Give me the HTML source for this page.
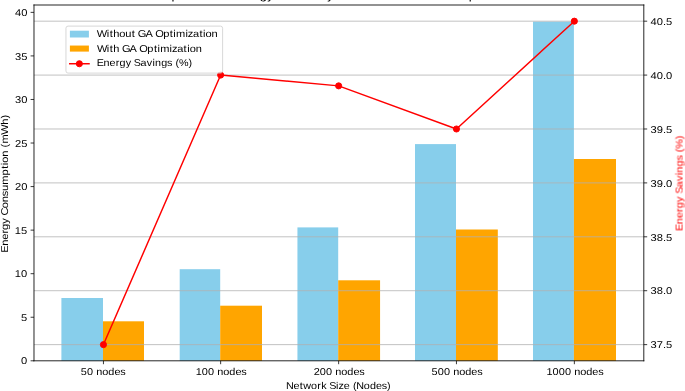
<!DOCTYPE html>
<html><head><meta charset="utf-8"><title>Energy Efficiency with and without GA Optimization</title><style>
html,body{margin:0;padding:0;background:#fff;width:685px;height:391px;overflow:hidden}
svg{display:block}
text{font-family:"Liberation Sans",sans-serif;fill:#000000;text-rendering:geometricPrecision}
</style></head><body>
<svg width="685" height="391" viewBox="0 0 685 391">
<defs><filter id="soft" x="0" y="0" width="1" height="1" color-interpolation-filters="sRGB"><feGaussianBlur stdDeviation="0.3"/></filter></defs>
<g filter="url(#soft)">
<rect width="685" height="391" fill="#fff"/>
<g transform="scale(0.9722222)">
<rect x="63.154" y="306.514" width="42.789" height="64.594" fill="#87ceeb"/>
<rect x="184.834" y="276.891" width="41.657" height="94.217" fill="#87ceeb"/>
<rect x="305.938" y="233.897" width="41.925" height="137.211" fill="#87ceeb"/>
<rect x="426.857" y="148.217" width="42.171" height="222.891" fill="#87ceeb"/>
<rect x="548.229" y="22.217" width="42.069" height="348.891" fill="#87ceeb"/>
<rect x="105.943" y="330.480" width="42.171" height="40.629" fill="#ffa500"/>
<rect x="226.491" y="314.434" width="42.994" height="56.674" fill="#ffa500"/>
<rect x="347.863" y="288.309" width="43.066" height="82.800" fill="#ffa500"/>
<rect x="469.029" y="236.057" width="42.994" height="135.051" fill="#ffa500"/>
<rect x="590.297" y="163.543" width="43.303" height="207.566" fill="#ffa500"/>
<line x1="106.406" x2="106.406" y1="371.109" y2="374.609" stroke="#000" stroke-width="0.8"/>
<line x1="226.954" x2="226.954" y1="371.109" y2="374.609" stroke="#000" stroke-width="0.8"/>
<line x1="348.326" x2="348.326" y1="371.109" y2="374.609" stroke="#000" stroke-width="0.8"/>
<line x1="469.491" x2="469.491" y1="371.109" y2="374.609" stroke="#000" stroke-width="0.8"/>
<line x1="590.760" x2="590.760" y1="371.109" y2="374.609" stroke="#000" stroke-width="0.8"/>
<line x1="31.471" x2="34.971" y1="371.109" y2="371.109" stroke="#000" stroke-width="0.8"/>
<line x1="31.471" x2="34.971" y1="326.309" y2="326.309" stroke="#000" stroke-width="0.8"/>
<line x1="31.471" x2="34.971" y1="281.510" y2="281.510" stroke="#000" stroke-width="0.8"/>
<line x1="31.471" x2="34.971" y1="236.711" y2="236.711" stroke="#000" stroke-width="0.8"/>
<line x1="31.471" x2="34.971" y1="191.911" y2="191.911" stroke="#000" stroke-width="0.8"/>
<line x1="31.471" x2="34.971" y1="147.112" y2="147.112" stroke="#000" stroke-width="0.8"/>
<line x1="31.471" x2="34.971" y1="102.313" y2="102.313" stroke="#000" stroke-width="0.8"/>
<line x1="31.471" x2="34.971" y1="57.513" y2="57.513" stroke="#000" stroke-width="0.8"/>
<line x1="31.471" x2="34.971" y1="12.714" y2="12.714" stroke="#000" stroke-width="0.8"/>
<text transform="translate(105.943,385.707) scale(1.0998,1)" x="-20.765 -14.986 -9.237 -6.330 -0.673 4.989 10.666 16.112" y="0" font-size="10.200">50 nodes</text>
<text transform="translate(227.263,385.707) scale(1.1026,1)" x="-23.616 -17.852 -12.088 -6.350 -3.455 2.188 7.835 13.498 18.930" y="0" font-size="10.200">100 nodes</text>
<text transform="translate(348.583,385.707) scale(1.1026,1)" x="-23.575 -17.811 -12.047 -6.310 -3.414 2.229 7.876 13.538 18.971" y="0" font-size="10.200">200 nodes</text>
<text transform="translate(469.903,385.707) scale(1.1026,1)" x="-23.575 -17.811 -12.047 -6.310 -3.414 2.229 7.876 13.538 18.971" y="0" font-size="10.200">500 nodes</text>
<text transform="translate(591.222,385.707) scale(1.1049,1)" x="-26.425 -20.672 -14.920 -9.167 -3.439 -0.552 5.079 10.715 16.366 21.788" y="0" font-size="10.200">1000 nodes</text>
<text transform="translate(348.171,400.414) scale(1.0883,1)" x="-49.732 -42.631 -36.592 -33.299 -25.893 -20.063 -16.368 -11.121 -8.728 -2.278 -0.006 4.941 10.639 13.608 16.853 23.938 29.659 35.396 40.897 45.927" y="0" font-size="10.200">Network Size (Nodes)</text>
<text transform="translate(27.971,374.908) scale(1.1237,1)" x="-5.606" y="0" font-size="10.200">0</text>
<text transform="translate(27.971,330.108) scale(1.1237,1)" x="-5.606" y="0" font-size="10.200">5</text>
<text transform="translate(27.971,285.309) scale(1.1237,1)" x="-11.293 -5.637" y="0" font-size="10.200">10</text>
<text transform="translate(27.971,240.510) scale(1.1237,1)" x="-11.293 -5.637" y="0" font-size="10.200">15</text>
<text transform="translate(27.971,195.710) scale(1.1237,1)" x="-11.213 -5.557" y="0" font-size="10.200">20</text>
<text transform="translate(27.971,150.911) scale(1.1237,1)" x="-11.213 -5.557" y="0" font-size="10.200">25</text>
<text transform="translate(27.971,106.112) scale(1.1237,1)" x="-11.213 -5.557" y="0" font-size="10.200">30</text>
<text transform="translate(27.971,61.312) scale(1.1237,1)" x="-11.213 -5.557" y="0" font-size="10.200">35</text>
<text transform="translate(27.971,16.513) scale(1.1237,1)" x="-11.213 -5.557" y="0" font-size="10.200">40</text>
<text transform="translate(8.241,188.640) rotate(-90) scale(1.1139,1)" x="-63.941 -57.702 -52.102 -46.365 -42.971 -37.186 -31.977 -29.680 -22.962 -17.376 -11.913 -7.020 -1.218 7.404 13.424 16.711 19.002 24.587 30.270 33.164 36.739 44.977 54.224 59.950" y="0" font-size="10.200">Energy Consumption (mWh)</text>
<text transform="translate(348.789,-0.857) scale(1.1108,1)" x="-180.486 -172.411 -165.561 -155.198 -148.476 -141.593 -137.203 -134.599 -128.839 -122.128 -115.297 -111.991 -105.095 -101.485 -98.750 -91.252 -84.523 -77.627 -73.520 -66.567 -60.306 -57.571 -49.888 -46.094 -42.360 -39.601 -33.441 -30.674 -23.944 -17.223 -11.072 -4.811 -1.411 7.552 10.821 14.645 21.476 24.787 31.504 38.339 45.175 48.575 57.538 60.807 64.631 71.342 78.054 85.284 89.110 91.937 100.477 108.257 111.150 120.168 127.404 131.354 134.361 144.845 147.470 153.256 160.374 164.324 167.073 173.785" y="0" font-size="12.240">Comparison of Energy Efficiency with and without GA Optimization</text>
<line x1="34.971" x2="662.194" y1="354.474" y2="354.474" stroke="#b0b0b0" stroke-width="0.8" stroke-opacity="1.0"/>
<line x1="34.971" x2="662.194" y1="299.024" y2="299.024" stroke="#b0b0b0" stroke-width="0.8" stroke-opacity="1.0"/>
<line x1="34.971" x2="662.194" y1="243.575" y2="243.575" stroke="#b0b0b0" stroke-width="0.8" stroke-opacity="1.0"/>
<line x1="34.971" x2="662.194" y1="188.126" y2="188.126" stroke="#b0b0b0" stroke-width="0.8" stroke-opacity="1.0"/>
<line x1="34.971" x2="662.194" y1="132.676" y2="132.676" stroke="#b0b0b0" stroke-width="0.8" stroke-opacity="1.0"/>
<line x1="34.971" x2="662.194" y1="77.227" y2="77.227" stroke="#b0b0b0" stroke-width="0.8" stroke-opacity="1.0"/>
<line x1="34.971" x2="662.194" y1="21.778" y2="21.778" stroke="#b0b0b0" stroke-width="0.8" stroke-opacity="1.0"/>
<line x1="662.194" x2="665.694" y1="354.474" y2="354.474" stroke="#000" stroke-width="0.8"/>
<line x1="662.194" x2="665.694" y1="299.024" y2="299.024" stroke="#000" stroke-width="0.8"/>
<line x1="662.194" x2="665.694" y1="243.575" y2="243.575" stroke="#000" stroke-width="0.8"/>
<line x1="662.194" x2="665.694" y1="188.126" y2="188.126" stroke="#000" stroke-width="0.8"/>
<line x1="662.194" x2="665.694" y1="132.676" y2="132.676" stroke="#000" stroke-width="0.8"/>
<line x1="662.194" x2="665.694" y1="77.227" y2="77.227" stroke="#000" stroke-width="0.8"/>
<line x1="662.194" x2="665.694" y1="21.778" y2="21.778" stroke="#000" stroke-width="0.8"/>
<text transform="translate(669.194,358.273) scale(1.1238,1)" x="-0.000 5.656 11.312 14.138" y="0" font-size="10.200">37.5</text>
<text transform="translate(669.194,302.824) scale(1.1238,1)" x="-0.000 5.656 11.312 14.138" y="0" font-size="10.200">38.0</text>
<text transform="translate(669.194,247.374) scale(1.1238,1)" x="-0.000 5.656 11.312 14.138" y="0" font-size="10.200">38.5</text>
<text transform="translate(669.194,191.925) scale(1.1238,1)" x="-0.000 5.656 11.312 14.138" y="0" font-size="10.200">39.0</text>
<text transform="translate(669.194,136.476) scale(1.1238,1)" x="-0.000 5.656 11.312 14.138" y="0" font-size="10.200">39.5</text>
<text transform="translate(669.194,81.026) scale(1.1238,1)" x="-0.000 5.656 11.312 14.138" y="0" font-size="10.200">40.0</text>
<text transform="translate(669.194,25.577) scale(1.1238,1)" x="-0.000 5.656 11.312 14.138" y="0" font-size="10.200">40.5</text>
<text transform="translate(701.824,188.126) rotate(-90) scale(1.0864,1)" x="-45.428 -39.046 -33.303 -27.449 -23.941 -18.016 -12.704 -10.303 -4.003 1.821 7.232 9.725 15.557 21.157 26.143 29.118 32.452 41.443" y="0" font-size="10.200" style="fill:#ff0000">Energy Savings (%)</text>
<polyline points="106.406,354.474 226.954,77.227 348.326,88.317 469.491,132.676 590.760,21.778" fill="none" stroke="#ff0000" stroke-width="1.5" stroke-linejoin="round" stroke-linecap="square"/>
<circle cx="106.406" cy="354.474" r="3.15" fill="#ff0000" stroke="#ff0000" stroke-width="1"/>
<circle cx="226.954" cy="77.227" r="3.15" fill="#ff0000" stroke="#ff0000" stroke-width="1"/>
<circle cx="348.326" cy="88.317" r="3.15" fill="#ff0000" stroke="#ff0000" stroke-width="1"/>
<circle cx="469.491" cy="132.676" r="3.15" fill="#ff0000" stroke="#ff0000" stroke-width="1"/>
<circle cx="590.760" cy="21.778" r="3.15" fill="#ff0000" stroke="#ff0000" stroke-width="1"/>
<path d="M34.971 371.109V5.143M662.194 371.109V5.143M34.971 371.109H662.194M34.971 5.143H662.194" fill="none" stroke="#000" stroke-width="0.88" stroke-linecap="square"/>
<rect x="67.834" y="26.846" width="161.126" height="48.343" rx="2.2" ry="2.2" fill="#fff" stroke="#ccc" stroke-width="1" opacity="0.8"/>
<rect x="71.897" y="31.577" width="19.543" height="6.994" fill="#87ceeb"/>
<rect x="71.897" y="46.851" width="19.543" height="6.223" fill="#ffa500"/>
<path d="M71.743 65.571H91.594" stroke="#ff0000" stroke-width="1.5" stroke-linecap="square"/>
<circle cx="81.617" cy="65.571" r="3.15" fill="#ff0000" stroke="#ff0000" stroke-width="1"/>
<text transform="translate(100.051,38.509) scale(1.1183,1)" x="-0.383 8.783 11.492 14.659 20.222 25.786 31.783 34.954 37.293 44.373 50.827 53.220 60.698 66.700 69.975 72.461 81.159 83.331 88.127 94.031 97.306 99.581 105.145" y="0" font-size="10.200">Without GA Optimization</text>
<text transform="translate(100.051,53.084) scale(1.1126,1)" x="-0.361 8.834 11.558 14.748 20.436 22.799 29.913 36.390 38.808 46.318 52.344 55.634 58.148 66.875 69.066 73.888 79.814 83.105 85.401 90.993" y="0" font-size="10.200">With GA Optimization</text>
<text transform="translate(100.051,68.174) scale(1.0864,1)" x="-0.487 5.896 11.639 17.492 21.001 26.926 32.238 34.639 40.938 46.762 52.173 54.666 60.499 66.098 71.085 74.059 77.394 86.384" y="0" font-size="10.200">Energy Savings (%)</text>
</g>
</g>
</svg>
</body></html>
